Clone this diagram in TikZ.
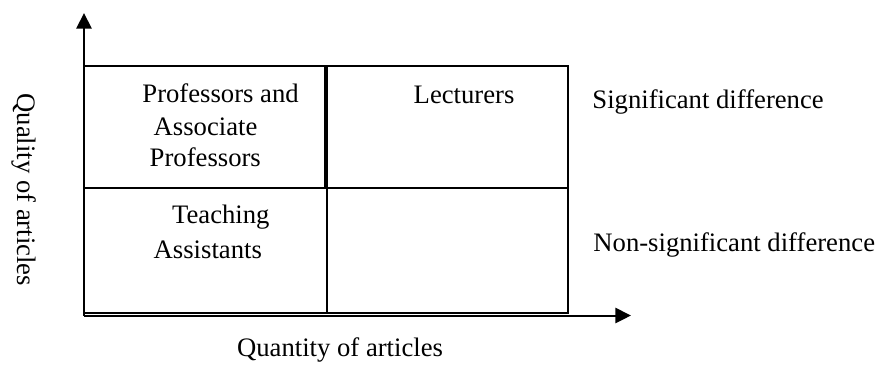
\documentclass[tikz,border=0pt]{standalone}
\usepackage{fontspec}
\setmainfont{Liberation Serif}
\usetikzlibrary{arrows.meta}
\tikzset{
  axis/.style={line width=0.9pt, -{Triangle[length=7pt,width=6.8pt]}},
  cell/.style={line width=0.6pt},
  lbl/.style={inner sep=0pt, anchor=base west, font=\fontsize{12pt}{14.4pt}\selectfont},
}
\begin{document}
\begin{tikzpicture}[x=0.45pt,y=-0.45pt]
  \useasboundingbox (0,0) rectangle (881,365);
  % Cells of the grid
  \draw[cell] (84,66) rectangle (325,188);
  \draw[cell] (327,66) rectangle (568,188);
  \draw[cell] (84,188) rectangle (327,313);
  \draw[cell] (327,188) rectangle (568,313);
  % Axes
  \coordinate (origin) at (84,315.5);
  \coordinate (ytip) at (84,13);
  \coordinate (xtip) at (631,315.5);
  \draw[axis] (origin) -- (ytip);
  \draw[axis] (origin) -- (xtip);
  % Labels in the cells
  \node[lbl] (prof1) at (142,102.7) {Professors and};
  \node[lbl] (prof2) at (153.3,135) {Associate};
  \node[lbl] (prof3) at (149.3,166.7) {Professors};
  \node[lbl] (lect) at (413.3,103) {Lecturers};
  \node[lbl] (teach1) at (171.7,223) {Teaching};
  \node[lbl] (teach2) at (153.3,258) {Assistants};
  % Labels of the rows
  \node[lbl] (sig) at (592,108) {Significant difference};
  \node[lbl] (nonsig) at (593,251.7) {Non-significant difference};
  % Axis labels
  \node[lbl] (xlabel) at (236.7,356.7) {Quantity of articles};
  \node[lbl, rotate=-90] (ylabel) at (17.4,93) {Quality of articles};
\end{tikzpicture}
\end{document}
